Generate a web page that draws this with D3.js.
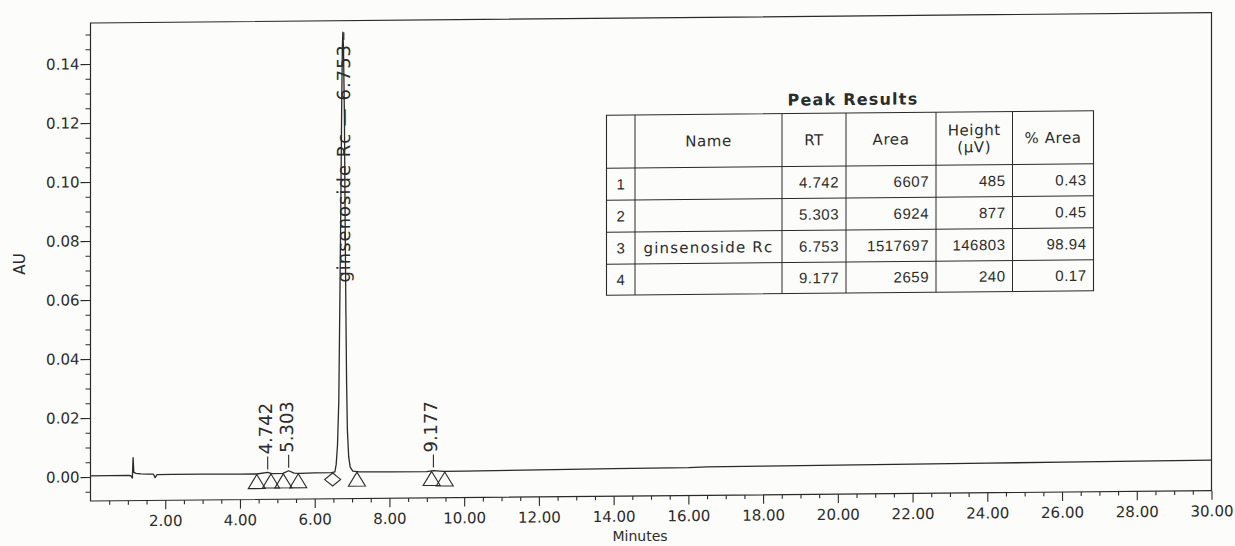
<!DOCTYPE html>
<html>
<head>
<meta charset="utf-8">
<script src="https://cdn.jsdelivr.net/npm/d3@7"></script>
<style>
  html, body { margin: 0; padding: 0; background: #fcfcfa; }
  svg { display: block; }
  text { fill: #2b2b2b; }
</style>
</head>
<body>
<div id="chart"></div>
<script>
// chromatogram trace (minutes / AU)
const traceTime = [0, 0.5, 1.0, 1.08, 1.12, 1.14, 1.16, 1.22, 1.35, 1.55,
    1.68, 1.73, 1.78, 2.2, 3.0, 4.0, 4.45, 4.742, 4.85, 5.15,
    5.303, 5.45, 5.6, 6.0, 6.45, 6.54, 6.575, 6.61, 6.645, 6.67,
    6.695, 6.72, 6.74, 6.753, 6.77, 6.795, 6.815, 6.835, 6.855, 6.875,
    6.91, 6.95, 7.02, 7.2, 8.0, 9.0, 9.177, 9.45, 10, 12,
    14, 16, 16.5, 18, 20, 22, 24, 26, 28, 30];
const traceAU = [0.0004, 0.0004, 0.0004, 0.0003, -0.0005, 0.0064, 0.0014, 0.0011, 0.0009, 0.0008,
    0.0008, -0.0004, 0.0006, 0.0006, 0.0006, 0.0005, 0.0005, 0.0010, 0.0006, 0.0006,
    0.0015, 0.0007, 0.0006, 0.0007, 0.0007, 0.0010, 0.0035, 0.010, 0.025, 0.055,
    0.085, 0.122, 0.145, 0.150, 0.145, 0.122, 0.085, 0.055, 0.030, 0.015,
    0.006, 0.0025, 0.0012, 0.0009, 0.0008, 0.0008, 0.0011, 0.0008, 0.0008, 0.0010,
    0.0012, 0.0013, 0.0015, 0.0016, 0.0017, 0.0018, 0.0019, 0.0020, 0.0021, 0.0022];

// peak results table
const peakNum = [1, 2, 3, 4];
const peakName = ["", "", "ginsenoside Rc", ""];
const peakRT = [4.742, 5.303, 6.753, 9.177];
const peakArea = [6607, 6924, 1517697, 2659];
const peakHeight = [485, 877, 146803, 240];
const peakPctArea = [0.43, 0.45, 98.94, 0.17];

// integration start / end markers under the baseline
const markerTime = [4.45, 4.83, 5.16, 5.56, 6.48, 7.13, 9.13, 9.48];
const markerShape = ["tri", "tri", "tri", "tri", "diamond", "tri", "tri", "tri"];

// axis ticks
const xTicks = [2, 4, 6, 8, 10, 12, 14, 16, 18, 20, 22, 24, 26, 28, 30];
const yTicks = [0, 0.02, 0.04, 0.06, 0.08, 0.10, 0.12, 0.14];

const width = 1235, height = 546;
const plot = { left: 90.5, right: 1211.5, top: 23, bottom: 501 };
const ink = "#2a2a2a";

const svg = d3.select("#chart").append("svg")
    .attr("width", width)
    .attr("height", height);

// the scanned page is slightly skewed: right side sits higher
const g = svg.append("g")
    .attr("transform", "matrix(1,-0.0092,0,1,0," + (0.0092 * plot.left) + ")");

const x = d3.scaleLinear().domain([0, 30]).range([plot.left, plot.right]);
const y = d3.scaleLinear().domain([-0.00814, 0.1539]).range([plot.bottom, plot.top]);

// frame
g.append("rect")
    .attr("x", plot.left).attr("y", plot.top)
    .attr("width", plot.right - plot.left).attr("height", plot.bottom - plot.top)
    .attr("fill", "none").attr("stroke", ink).attr("stroke-width", 1.2);

// x axis, major + minor ticks
const xMinor = d3.range(0.5, 30, 0.5).filter(v => v % 2 !== 0);
g.append("g")
    .attr("transform", `translate(0,${plot.bottom})`)
    .call(d3.axisBottom(x).tickValues(xMinor).tickSize(4).tickFormat(""))
    .call(a => a.select(".domain").remove());
g.append("g")
    .attr("transform", `translate(0,${plot.bottom})`)
    .call(d3.axisBottom(x).tickValues(xTicks).tickSize(9).tickPadding(6).tickFormat(d3.format(".2f")))
    .call(a => a.select(".domain").remove());

// y axis, major + minor ticks
const yMinor = d3.range(-1, 31).map(i => i * 0.005).filter(v => Math.round(v * 1000) % 20 !== 0);
g.append("g")
    .attr("transform", `translate(${plot.left},0)`)
    .call(d3.axisLeft(y).tickValues(yMinor).tickSize(5).tickFormat(""))
    .call(a => a.select(".domain").remove());
g.append("g")
    .attr("transform", `translate(${plot.left},0)`)
    .call(d3.axisLeft(y).tickValues(yTicks).tickSize(10).tickPadding(1).tickFormat(d3.format(".2f")))
    .call(a => a.select(".domain").remove());

g.selectAll(".tick line").attr("stroke", ink).attr("stroke-width", 1.1);
g.selectAll(".tick text")
    .attr("font-family", "DejaVu Sans")
    .attr("font-size", 15)
    .attr("fill", ink);

// trace
const trace = traceTime.map((t, i) => [t, traceAU[i]]);
g.append("path")
    .datum(trace)
    .attr("fill", "none")
    .attr("stroke", ink)
    .attr("stroke-width", 1.3)
    .attr("stroke-linejoin", "round")
    .attr("d", d3.line().x(d => x(d[0])).y(d => y(d[1])));

// baseline value at a given time (for placing markers / leaders)
function baseAt(t) {
    const i = Math.max(1, d3.bisectLeft(traceTime, t));
    const t0 = traceTime[i - 1], t1 = traceTime[i];
    const f = (t - t0) / (t1 - t0);
    return traceAU[i - 1] + f * (traceAU[i] - traceAU[i - 1]);
}

// markers
g.append("g").selectAll("path")
    .data(markerTime.map((t, i) => ({ t: t, shape: markerShape[i] })))
    .enter().append("path")
    .attr("transform", d => `translate(${x(d.t)},${y(baseAt(d.t) - 0.0002)})`)
    .attr("d", d => d.shape === "tri"
        ? "M0,0 L8.5,14 L-8.5,14 Z"
        : "M0,0 L8,6.5 L0,13 L-8,6.5 Z")
    .attr("fill", "none")
    .attr("stroke", ink)
    .attr("stroke-width", 1.1);

// peak labels
const labels = g.append("g");
peakRT.forEach((rt, i) => {
    const px = x(rt);
    if (peakName[i]) {
        // main peak: label runs along the peak itself
        const startY = 285;
        const txt = labels.append("text")
            .attr("transform", `translate(${px + 7},${startY}) rotate(-90)`)
            .attr("font-family", "DejaVu Sans")
            .attr("font-size", 18)
            .attr("letter-spacing", 1)
            .text(peakName[i] + " \u2014 " + rt.toFixed(3));
        const len = txt.node().getComputedTextLength();
        labels.append("line")
            .attr("x1", px + 1).attr("x2", px + 1)
            .attr("y1", startY - len - 4).attr("y2", y(traceAU[traceTime.indexOf(rt)]))
            .attr("stroke", ink).attr("stroke-width", 1.1);
    } else {
        const yb = y(baseAt(rt));
        labels.append("line")
            .attr("x1", px).attr("x2", px)
            .attr("y1", yb - 3).attr("y2", yb - 16)
            .attr("stroke", ink).attr("stroke-width", 1.1);
        labels.append("text")
            .attr("transform", `translate(${px + 4},${yb - 18}) rotate(-90)`)
            .attr("font-family", "DejaVu Sans")
            .attr("font-size", 18)
            .text(rt.toFixed(3));
    }
});

// Peak Results table
const colX = [606.5, 635, 782, 846, 936, 1012.5, 1093.5];
const rowY = [120, 173, 205, 237, 269, 300];
const table = g.append("g");

table.append("text")
    .attr("x", (colX[0] + colX[6]) / 2 + 3)
    .attr("y", 112)
    .attr("text-anchor", "middle")
    .attr("font-family", "DejaVu Sans")
    .attr("font-weight", "bold")
    .attr("font-size", 16)
    .attr("letter-spacing", 1.2)
    .text("Peak Results");

table.append("rect")
    .attr("x", colX[0]).attr("y", rowY[0])
    .attr("width", colX[6] - colX[0]).attr("height", rowY[5] - rowY[0])
    .attr("fill", "none").attr("stroke", ink).attr("stroke-width", 1.1);
colX.slice(1, 6).forEach(cx => {
    table.append("line")
        .attr("x1", cx).attr("x2", cx).attr("y1", rowY[0]).attr("y2", rowY[5])
        .attr("stroke", ink).attr("stroke-width", 1);
});
rowY.slice(1, 5).forEach(ry => {
    table.append("line")
        .attr("x1", colX[0]).attr("x2", colX[6]).attr("y1", ry).attr("y2", ry)
        .attr("stroke", ink).attr("stroke-width", 1);
});

// header
const headMid = (rowY[0] + rowY[1]) / 2;
const headers = [["Name"], ["RT"], ["Area"], ["Height", "(\u00b5V)"], ["% Area"]];
headers.forEach((lines, j) => {
    const cx = (colX[j + 1] + colX[j + 2]) / 2;
    lines.forEach((s, k) => {
        table.append("text")
            .attr("x", cx)
            .attr("y", headMid + (k - (lines.length - 1) / 2) * 17)
            .attr("dy", "0.36em")
            .attr("text-anchor", "middle")
            .attr("font-family", "DejaVu Sans")
            .attr("font-size", 15)
            .attr("letter-spacing", 0.6)
            .text(s);
    });
});

// body rows
const numCols = [peakRT.map(v => v.toFixed(3)), peakArea.map(String),
    peakHeight.map(String), peakPctArea.map(v => v.toFixed(2))];
peakNum.forEach((n, i) => {
    const cy = (rowY[i + 1] + rowY[i + 2]) / 2;
    table.append("text")
        .attr("x", (colX[0] + colX[1]) / 2).attr("y", cy).attr("dy", "0.36em")
        .attr("text-anchor", "middle")
        .attr("font-family", "Liberation Sans").attr("font-size", 15)
        .text(n);
    table.append("text")
        .attr("x", (colX[1] + colX[2]) / 2).attr("y", cy).attr("dy", "0.36em")
        .attr("text-anchor", "middle")
        .attr("font-family", "DejaVu Sans").attr("font-size", 15)
        .attr("letter-spacing", 1.2)
        .text(peakName[i]);
    numCols.forEach((col, j) => {
        table.append("text")
            .attr("x", colX[j + 3] - 7).attr("y", cy).attr("dy", "0.36em")
            .attr("text-anchor", "end")
            .attr("font-family", "Liberation Sans").attr("font-size", 15)
            .attr("letter-spacing", 0.5)
            .text(col[i]);
    });
});

// axis titles
svg.append("text")
    .attr("x", 640).attr("y", 541)
    .attr("text-anchor", "middle")
    .attr("font-family", "DejaVu Sans").attr("font-size", 14)
    .text("Minutes");
svg.append("text")
    .attr("transform", "translate(25,264) rotate(-90)")
    .attr("text-anchor", "middle")
    .attr("font-family", "DejaVu Sans").attr("font-size", 15)
    .text("AU");
</script>
</body>
</html>
